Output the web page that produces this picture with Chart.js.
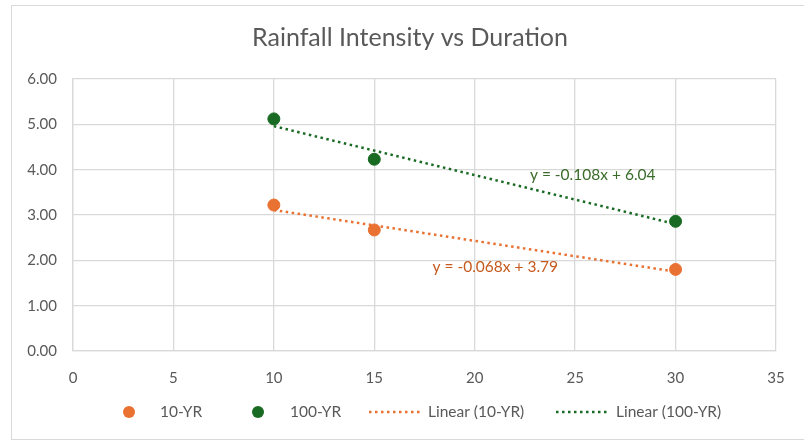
<!DOCTYPE html>
<html>
<head>
<meta charset="utf-8">
<script src="https://cdn.jsdelivr.net/npm/chart.js@4"></script>
<style>
  html, body { margin: 0; padding: 0; background: #fff; }
  #wrap { position: relative; width: 804px; height: 443px; }
  #frame { position: absolute; left: 11px; top: 5px; width: 800px; height: 435px; border: 1px solid #d9d9d9; box-sizing: border-box; }
  canvas { position: absolute; left: 0; top: 0; }
</style>
</head>
<body>
<div id="wrap">
  <div id="frame"></div>
  <canvas id="myChart" width="804" height="443"></canvas>
</div>
<script>
// durations (min) and intensities
const durations = [10, 15, 30];
const yr10 = [3.22, 2.67, 1.80];
const yr100 = [5.12, 4.23, 2.86];

// linear trendline end points (x = 10 and x = 30)
const trendX = [10, 30];
const trend10 = [3.11, 1.75];
const trend100 = [4.96, 2.80];

const eq10 = 'y = -0.068x + 3.79';
const eq100 = 'y = -0.108x + 6.04';

const orange = '#E97132';
const green = '#196B24';
const textGrey = '#595959';
const fontFamily = 'Lato, "Liberation Sans", sans-serif';

const toPoints = (xs, ys) => xs.map((x, i) => ({ x: x, y: ys[i] }));

const data = {
    datasets: [{
        label: '10-YR',
        type: 'scatter',
        data: toPoints(durations, yr10),
        backgroundColor: orange,
        borderColor: orange,
        pointRadius: 6,
        pointHoverRadius: 6
    }, {
        label: '100-YR',
        type: 'scatter',
        data: toPoints(durations, yr100),
        backgroundColor: green,
        borderColor: green,
        pointRadius: 6,
        pointHoverRadius: 6
    }, {
        label: 'Linear (10-YR)',
        type: 'line',
        data: toPoints(trendX, trend10),
        borderColor: orange,
        borderWidth: 2.5,
        borderDash: [2.5, 3.5],
        pointRadius: 0,
        fill: false
    }, {
        label: 'Linear (100-YR)',
        type: 'line',
        data: toPoints(trendX, trend100),
        borderColor: green,
        borderWidth: 2.5,
        borderDash: [2.5, 3.5],
        pointRadius: 0,
        fill: false
    }]
};

// title, equation labels and legend drawn by hand
const extras = {
    id: 'extras',
    afterDraw(chart) {
        const ctx = chart.ctx;
        const xs = chart.scales.x, ys = chart.scales.y;
        ctx.save();
        ctx.textBaseline = 'middle';

        ctx.fillStyle = textGrey;
        ctx.font = '25px ' + fontFamily;
        ctx.textAlign = 'center';
        ctx.fillText('Rainfall Intensity vs Duration', 410, 38);

        ctx.font = '15.5px ' + fontFamily;
        ctx.textAlign = 'left';
        ctx.fillStyle = '#3A6B2A';
        ctx.fillText(eq100, xs.getPixelForValue(22.75), ys.getPixelForValue(3.88));
        ctx.fillStyle = '#C65A1E';
        ctx.fillText(eq10, xs.getPixelForValue(17.9), ys.getPixelForValue(1.85));

        // legend
        const ly = 412;
        ctx.font = '15.5px ' + fontFamily;
        const items = [
            { kind: 'dot', color: orange, x: 129, tx: 160, text: '10-YR' },
            { kind: 'dot', color: green, x: 258, tx: 290, text: '100-YR' },
            { kind: 'line', color: orange, x: 369, x2: 423, tx: 428, text: 'Linear (10-YR)' },
            { kind: 'line', color: green, x: 556, x2: 610, tx: 616, text: 'Linear (100-YR)' }
        ];
        items.forEach(it => {
            if (it.kind === 'dot') {
                ctx.beginPath();
                ctx.fillStyle = it.color;
                ctx.arc(it.x, ly, 6, 0, Math.PI * 2);
                ctx.fill();
            } else {
                ctx.beginPath();
                ctx.strokeStyle = it.color;
                ctx.lineWidth = 2.5;
                ctx.setLineDash([2.5, 3.5]);
                ctx.moveTo(it.x, ly);
                ctx.lineTo(it.x2, ly);
                ctx.stroke();
                ctx.setLineDash([]);
            }
            ctx.fillStyle = textGrey;
            ctx.fillText(it.text, it.tx, ly);
        });
        ctx.restore();
    }
};

const config = {
    type: 'scatter',
    data,
    options: {
        responsive: false,
        animation: false,
        layout: {
            padding: { left: 0, right: 28, top: 79, bottom: 0 }
        },
        scales: {
            x: {
                type: 'linear',
                min: 0,
                max: 35,
                ticks: {
                    stepSize: 5,
                    color: textGrey,
                    padding: 18,
                    font: { size: 15, family: fontFamily }
                },
                grid: { color: '#d9d9d9', lineWidth: 1.3, drawTicks: false },
                border: { color: '#d9d9d9', width: 1.3 },
                afterFit(scale) { scale.height = 92; }
            },
            y: {
                min: 0,
                max: 6,
                ticks: {
                    stepSize: 1,
                    color: textGrey,
                    padding: 16,
                    font: { size: 15, family: fontFamily },
                    callback: v => v.toFixed(2)
                },
                grid: { color: '#d9d9d9', lineWidth: 1.3, drawTicks: false },
                border: { color: '#d9d9d9', width: 1.3 },
                afterFit(scale) { scale.width = 73; }
            }
        },
        plugins: {
            legend: { display: false },
            title: { display: false },
            tooltip: { enabled: false }
        }
    },
    plugins: [extras]
};

var myChart = new Chart(
    document.getElementById('myChart'),
    config
);
</script>
</body>
</html>
